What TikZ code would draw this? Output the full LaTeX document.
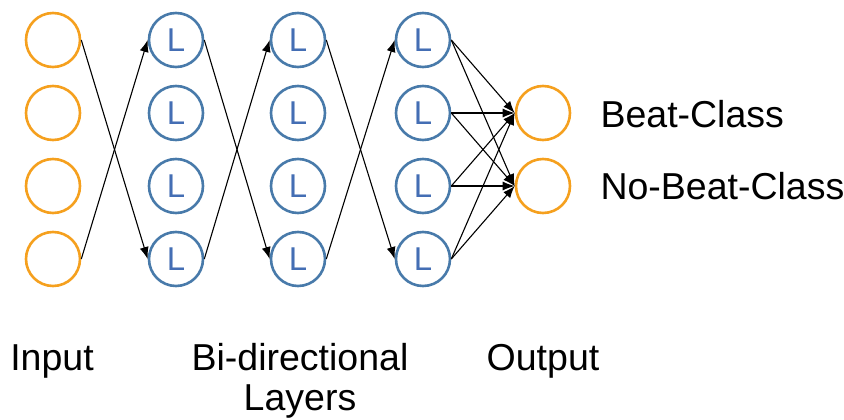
\documentclass[tikz,border=0pt]{standalone}
\usepackage{fontspec}
\setmainfont{Liberation Sans}
\usetikzlibrary{arrows.meta}
\definecolor{orng}{RGB}{245,160,30}
\definecolor{blu}{RGB}{72,122,170}
\definecolor{ltxt}{RGB}{68,110,180}
\tikzset{
  inp/.style={circle,draw=orng,line width=2.6pt,minimum size=54pt,inner sep=0pt},
  lay/.style={circle,draw=blu,line width=2.6pt,minimum size=54pt,inner sep=0pt,text=ltxt,font=\fontsize{33}{33}\selectfont},
  lab/.style={font=\fontsize{37.5}{40}\selectfont,anchor=base},
  cls/.style={font=\fontsize{37.5}{40}\selectfont,anchor=west},
  con/.style={line width=1.1pt,-{Latex[length=12pt,width=9pt]}}
}
\begin{document}
\begin{tikzpicture}[x=1pt,y=-1pt]
\useasboundingbox (0,0) rectangle (844,420);
\foreach \i/\y in {0/40,1/113,2/186,3/259}{
  \node[inp] (in\i) at (53,\y) {};
  \node[lay] (a\i) at (176,\y) {L};
  \node[lay] (b\i) at (298,\y) {L};
  \node[lay] (c\i) at (423,\y) {L};
}
\node[inp] (o0) at (543,113) {};
\node[inp] (o1) at (543,186) {};
\draw[con] (in0.east) -- (a3.west);
\draw[con] (in3.east) -- (a0.west);
\draw[con] (a0.east) -- (b3.west);
\draw[con] (a3.east) -- (b0.west);
\draw[con] (b0.east) -- (c3.west);
\draw[con] (b3.east) -- (c0.west);
\foreach \i in {0,1,2,3}{
  \draw[con] (c\i.east) -- (o0.west);
  \draw[con] (c\i.east) -- (o1.west);
}
\node[cls] (t0) at (597,114) {Beat-Class};
\node[cls] (t1) at (597,186) {No-Beat-Class};
\node[lab] (l0) at (52,370) {Input};
\node[lab] (l1) at (300,370) {Bi-directional};
\node[lab] (l2) at (300,410) {Layers};
\node[lab] (l3) at (543,370) {Output};
\end{tikzpicture}
\end{document}
